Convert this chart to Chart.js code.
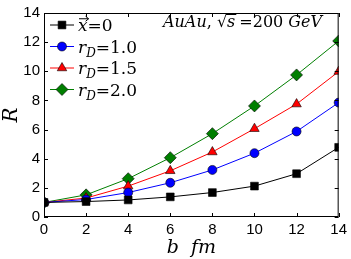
<!DOCTYPE html>
<html>
<head>
<meta charset="utf-8">
<script src="https://cdn.jsdelivr.net/npm/chart.js@4/dist/chart.umd.min.js"></script>
<style>
  html, body { margin: 0; padding: 0; background: #fff; }
  #wrap { width: 351px; height: 259px; }
</style>
</head>
<body>
<div id="wrap"><canvas id="rChart"></canvas></div>
<script>
// impact parameter b (fm)
const bValues = [0, 2, 4, 6, 8, 10, 12, 14];
const xTicks = [0, 2, 4, 6, 8, 10, 12, 14];
const yTicks = [0, 2, 4, 6, 8, 10, 12, 14];

// R for each case
const rX0 = [1.0, 1.06, 1.17, 1.38, 1.68, 2.12, 2.97, 4.78];
const rD10 = [1.0, 1.2, 1.68, 2.35, 3.23, 4.38, 5.87, 7.85];
const rD15 = [1.0, 1.3, 2.12, 3.17, 4.46, 6.06, 7.75, 9.98];
const rD20 = [1.0, 1.52, 2.63, 4.07, 5.72, 7.62, 9.75, 12.08];

// 'v' = italic letter with a vector arrow over it
const legendItems = [
    { label: [['x', 'v'], ['=0', 'n']], color: '#000000', style: 'rect', radius: 5.5 },
    { label: [['r', 'i'], ['D', 's'], ['=1.0', 'n']], color: '#0000ff', style: 'circle', radius: 4.5 },
    { label: [['r', 'i'], ['D', 's'], ['=1.5', 'n']], color: '#ff0000', style: 'triangle', radius: 5.5 },
    { label: [['r', 'i'], ['D', 's'], ['=2.0', 'n']], color: '#007f00', style: 'rectRot', radius: 6 }
];

function makeSet(data, item) {
    return {
        data: data.map((v, i) => ({ x: bValues[i], y: v })),
        borderColor: item.color,
        backgroundColor: item.color,
        borderWidth: 1,
        pointStyle: item.style,
        pointRadius: item.radius,
        pointBorderColor: '#000',
        pointBorderWidth: 0.6,
        pointBackgroundColor: item.color,
        fill: false,
        tension: 0
    };
}

// draws a run of math-like text: i = italic, n = normal, s = subscript italic
function drawMath(ctx, x, y, parts, size) {
    ctx.textBaseline = 'alphabetic';
    ctx.textAlign = 'left';
    parts.forEach(p => {
        const [t, kind] = p;
        if (kind === 's') {
            ctx.font = 'italic ' + Math.round(size * 0.72) + 'px "DejaVu Serif"';
            ctx.fillText(t, x, y + size * 0.25);
        } else {
            ctx.font = (kind === 'n' ? '' : 'italic ') + size + 'px "DejaVu Serif"';
            ctx.fillText(t, x, y);
            if (kind === 'v') {
                const w = ctx.measureText(t).width;
                const ay = y - size * 0.72;
                ctx.save();
                ctx.strokeStyle = ctx.fillStyle;
                ctx.lineWidth = 1;
                ctx.beginPath();
                ctx.moveTo(x + 1, ay); ctx.lineTo(x + w + 1, ay);
                ctx.moveTo(x + w - 2, ay - 2.5); ctx.lineTo(x + w + 1, ay); ctx.lineTo(x + w - 2, ay + 2.5);
                ctx.stroke();
                ctx.restore();
            }
        }
        x += ctx.measureText(t).width;
    });
    return x;
}

const framePlugin = {
    id: 'frame',
    afterDatasetsDraw(chart) {
        const ctx = chart.ctx;
        const a = chart.chartArea;
        const xs = chart.scales.x, ys = chart.scales.y;
        ctx.save();
        ctx.strokeStyle = '#000';
        ctx.lineWidth = 1;
        ctx.strokeRect(a.left + 0.5, a.top + 0.5, a.right - a.left - 1, a.bottom - a.top - 1);
        // inward ticks on all four sides
        ctx.beginPath();
        xTicks.forEach(v => {
            const px = Math.round(xs.getPixelForValue(v)) + 0.5;
            ctx.moveTo(px, a.bottom); ctx.lineTo(px, a.bottom - 4);
            ctx.moveTo(px, a.top); ctx.lineTo(px, a.top + 4);
        });
        yTicks.forEach(v => {
            const py = Math.round(ys.getPixelForValue(v)) + 0.5;
            ctx.moveTo(a.left, py); ctx.lineTo(a.left + 4, py);
            ctx.moveTo(a.right, py); ctx.lineTo(a.right - 4, py);
        });
        ctx.stroke();

        // legend
        ctx.fillStyle = '#000';
        legendItems.forEach((it, i) => {
            const cy = 25 + i * 21.5;
            ctx.strokeStyle = it.color;
            ctx.lineWidth = 1;
            ctx.beginPath();
            ctx.moveTo(50, cy); ctx.lineTo(74, cy);
            ctx.stroke();
            ctx.strokeStyle = '#000';
            ctx.fillStyle = it.color;
            ctx.lineWidth = 0.6;
            Chart.helpers.drawPoint(ctx, { pointStyle: it.style, radius: it.radius, borderWidth: 0.6 }, 62, cy);
            ctx.fillStyle = '#000';
            drawMath(ctx, 78, cy + 6, it.label, 17);
        });

        // annotation
        ctx.fillStyle = '#000';
        let x = drawMath(ctx, 163, 27, [['AuAu', 'i'], [', ', 'n']], 16);
        ctx.font = '16px "DejaVu Serif"';
        ctx.fillText('\u221A', x, 27);
        const sx = x + ctx.measureText('\u221A').width;
        ctx.font = 'italic 16px "DejaVu Serif"';
        const sw = ctx.measureText('s').width;
        ctx.fillText('s', sx, 27);
        ctx.fillRect(sx - 1, 14, sw + 2, 1);
        drawMath(ctx, sx + sw + 4, 27, [['=200 ', 'n'], ['GeV', 'i']], 16);
        ctx.restore();
    }
};

new Chart(document.getElementById('rChart'), {
    type: 'line',
    data: {
        datasets: [
            makeSet(rX0, legendItems[0]),
            makeSet(rD10, legendItems[1]),
            makeSet(rD15, legendItems[2]),
            makeSet(rD20, legendItems[3])
        ]
    },
    options: {
        responsive: true,
        maintainAspectRatio: false,
        animation: false,
        devicePixelRatio: 1,
        layout: { padding: { top: 7, right: 10, left: 0, bottom: 0 } },
        plugins: { legend: { display: false }, tooltip: { enabled: false } },
        scales: {
            x: {
                type: 'linear',
                min: 0, max: 14,
                afterBuildTicks: s => { s.ticks = xTicks.map(v => ({ value: v })); },
                afterFit: s => { s.height = 42; },
                grid: { display: false, drawTicks: false },
                border: { display: false },
                ticks: { color: '#000', padding: 4, font: { family: 'Liberation Sans', size: 15 } },
                title: { display: true, text: 'b  fm', color: '#000', padding: { top: 0, bottom: 0 },
                    font: { family: 'DejaVu Serif', style: 'italic', size: 19 } }
            },
            y: {
                min: 0, max: 14,
                afterBuildTicks: s => { s.ticks = yTicks.map(v => ({ value: v })); },
                afterFit: s => { s.width = 44; },
                grid: { display: false, drawTicks: false },
                border: { display: false },
                ticks: { color: '#000', padding: 4, font: { family: 'Liberation Sans', size: 15 } },
                title: { display: true, text: 'R', color: '#000', padding: { top: 0, bottom: 0 },
                    font: { family: 'DejaVu Serif', style: 'italic', size: 20 } }
            }
        }
    },
    plugins: [framePlugin]
});
</script>
</body>
</html>
